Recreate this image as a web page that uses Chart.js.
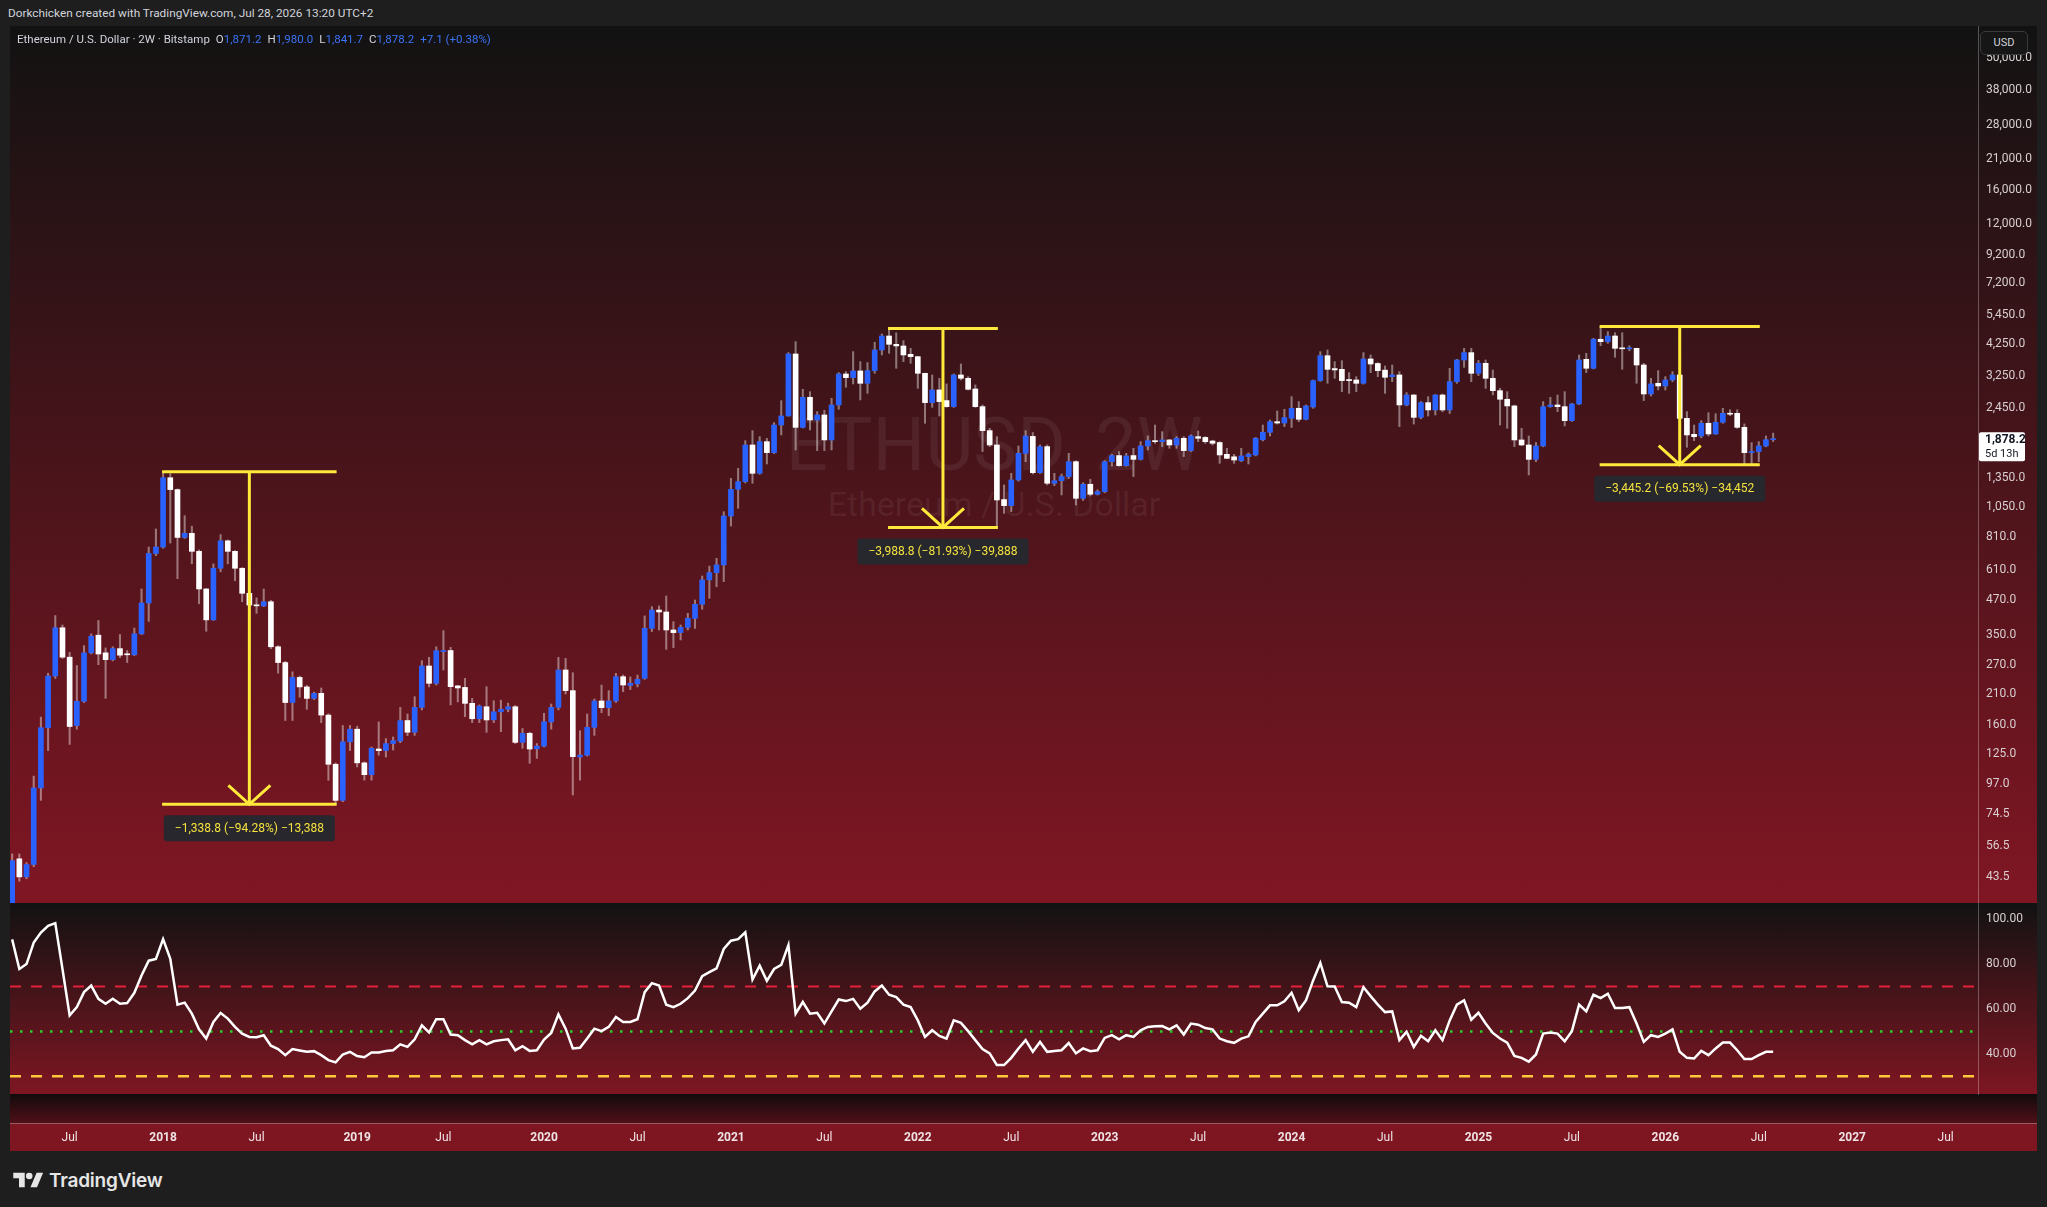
<!DOCTYPE html>
<html>
<head>
<meta charset="utf-8">
<title>ETHUSD 2W</title>
<script src="https://cdn.jsdelivr.net/npm/chart.js@4.4.1/dist/chart.umd.min.js"></script>
<style>
html, body { margin: 0; padding: 0; background: #1e1e1e; }
body { width: 2047px; height: 1207px; position: relative; overflow: hidden; font-family: Roboto, "Noto Sans", sans-serif; }
#credit { position: absolute; left: 8px; top: 6px; font-size: 11.8px; line-height: 14px; color: #d1d4dc; white-space: nowrap; }
#pricePane { position: absolute; left: 10px; top: 26px; width: 2027px; height: 877px;
  background: linear-gradient(to bottom, #121212 0%, #801623 100%); }
#rsiPane { position: absolute; left: 10px; top: 903px; width: 2027px; height: 248px;
  background: linear-gradient(to bottom, #121212 0px, #7e1622 191px, #110b0c 191px, #500f18 220px,
    #9a5a62 220px, #9a5a62 221px, #7e1622 221px, #7e1622 248px); }
canvas { position: absolute; left: 0; top: 0; }
.wm { position: absolute; left: 0; width: 1968px; text-align: center; color: rgba(255,255,255,0.065); white-space: nowrap; }
#wm1 { top: 382px; font-size: 74px; line-height: 74px; }
#wm2 { top: 461px; font-size: 34px; line-height: 34px; }
#legend { position: absolute; left: 7px; top: 6px; font-size: 11.5px; line-height: 14px; color: #d1d4dc; white-space: nowrap; z-index: 2; }
#legend .v { color: #3b73f5; }
#legend .g { margin-left: 6px; }
#usd { position: absolute; left: 1980px; top: 31px; width: 48px; height: 24px; box-sizing: border-box;
  border: 1px solid #3a3a3a; border-radius: 5px; background: #161616; color: #d1d4dc;
  font-size: 11px; line-height: 21px; text-align: center; z-index: 3; }
#logo { position: absolute; left: 13px; top: 1169px; height: 22px; display: flex; align-items: center; gap: 6px; color: #e6e6e6; }
#logo span { font-family: Inter, Roboto, sans-serif; font-size: 19px; font-weight: 600; letter-spacing: -0.2px; }
</style>
</head>
<body>
<div id="credit">Dorkchicken created with TradingView.com, Jul 28, 2026 13:20 UTC+2</div>

<div id="pricePane">
  <div class="wm" id="wm1">ETHUSD, 2W</div>
  <div class="wm" id="wm2">Ethereum / U.S. Dollar</div>
  <div id="legend"></div>
  <canvas id="priceChart" width="2027" height="877"></canvas>
</div>
<div id="usd">USD</div>

<div id="rsiPane">
  <canvas id="rsiChart" width="2027" height="248"></canvas>
</div>

<div id="logo">
  <svg width="30" height="18" viewBox="0 0 36 22"><path d="M14 20H7V9H0V2h14v18zM29 20h-8l7.5-18h8L29 20z" fill="#e6e6e6"/><circle cx="19.5" cy="6" r="4" fill="#e6e6e6"/></svg>
  <span>TradingView</span>
</div>

<script>
// 2W candles, first bar starts on this date
const startDate = '2017-03-13';

const open = [
  28, 50.8, 43.5, 48.4, 93.5, 157, 245, 371, 288, 160,
  197, 299, 348, 299, 282, 310, 296, 294, 352, 459,
  703, 743, 1349, 1218, 807, 836, 716, 518, 397, 619,
  784, 716, 619, 499, 452, 448, 464, 315, 275, 195,
  242, 223, 202, 211, 175, 114.6, 84, 139, 155, 116,
  104.8, 130.7, 129, 137, 140, 167, 151, 187, 267, 230,
  302, 305, 225, 222, 193.6, 169.6, 188, 168, 180, 184,
  188, 138.4, 149.6, 131, 134, 165, 187, 258, 216, 122,
  124, 157.5, 197.6, 186.6, 197.6, 243.5, 226, 229, 240, 369,
  432, 425, 364, 356, 372, 402, 454, 560, 596, 637,
  970, 1221, 1304, 1788, 1401, 1840, 1674, 2123, 2295, 3913,
  2081, 2695, 2217, 2315, 1867, 2523, 3294, 3192, 3381, 3040,
  3390, 4050, 4567, 4252, 4192, 3900, 3824, 3313, 2574, 2871,
  2620, 2487, 3266, 3173, 2895, 2487, 2023, 1788, 1118, 1061,
  1323, 1664, 1925, 1409, 1763, 1286, 1315, 1362, 1549, 1130,
  1275, 1170, 1197, 1549, 1632, 1497, 1632, 1580, 1773, 1856,
  1840, 1867, 1788, 1894, 1703, 1921, 1908, 1850, 1826, 1650,
  1615, 1562, 1618, 1641, 1870, 1994, 2185, 2160, 2250, 2452,
  2230, 2480, 3111, 3855, 3450, 3428, 3140, 3128, 3040, 3748,
  3605, 3405, 3219, 3266, 2523, 2749, 2268, 2574, 2417, 2749,
  2417, 3083, 3715, 3958, 3313, 3611, 3173, 2853, 2650, 2502,
  1867, 1788, 1580, 1773, 2487, 2523, 2487, 2204, 2544, 3737,
  3459, 4440, 4350, 4567, 4108, 4090, 4108, 3559, 2773, 3040,
  2971, 3128, 3266, 2249, 1960, 1932, 2155, 1966, 2174, 2348,
  2348, 2081, 1674, 1690, 1773, 1871.2
];
const high = [
  53, 53, 49.2, 103.5, 172, 251, 412, 380, 300, 268,
  318, 352, 395, 312, 315, 350, 305, 370, 518, 743,
  868, 1420, 1398, 1225, 973, 889, 725, 520, 643, 827,
  790, 720, 622, 510, 480, 518, 470, 318, 278, 254,
  245, 226, 213, 221, 177, 116, 160, 160, 159, 117,
  133, 165, 143, 145, 187, 176.6, 205, 279.5, 287.6, 315,
  362, 313.5, 226, 240, 202, 191, 223.5, 198, 199, 194,
  190, 156, 151, 137, 177.7, 192.5, 287.6, 285, 252, 153,
  176.6, 201, 226.7, 216, 250.6, 247, 243, 247, 410.7, 445,
  447.6, 487.6, 391, 380, 420, 471, 579, 631, 674.5, 1007,
  1342, 1463, 1856, 2023, 1921, 1894, 2167, 2619, 3958, 4352,
  2887, 2829, 2382, 2408, 2672, 3332, 3361, 3993, 3663, 3632,
  4327, 4648, 4868.5, 4697, 4389, 4108, 3830, 3320, 3266, 3173,
  3023, 3294, 3590, 3219, 2997, 2523, 2064, 1921, 1268, 1401,
  1773, 2023, 1989, 1788, 1788, 1401, 1393, 1664, 1560, 1292,
  1331, 1216, 1563, 1651, 1689, 1664, 1738, 1840, 1932, 2123,
  2005, 1875, 1921, 1921, 1949, 2017, 1921, 1860, 1840, 1738,
  1650, 1738, 1670, 1908, 2123, 2217, 2396, 2431, 2710, 2597,
  2523, 3128, 3991, 4050, 3663, 3694, 3332, 3219, 3958, 3879,
  3630, 3529, 3559, 3361, 2805, 2760, 2597, 2710, 2760, 2772,
  3459, 3737, 4108, 4108, 3700, 3715, 3409, 2912, 2829, 2520,
  2064, 1932, 1826, 2597, 2695, 2750, 2829, 2560, 3879, 3935,
  4478, 4955.0, 4742, 4697, 4697, 4200, 4115, 3611, 3173, 3390,
  3219, 3361, 3294, 2382, 2123, 2204, 2361, 2339, 2452, 2420,
  2420, 2143, 1824, 1840, 1932, 1980.0
];
const low = [
  27, 41.9, 42.8, 47.5, 84, 129, 240, 285, 136, 155,
  195, 296, 270, 202, 279, 287, 275, 292, 350, 392,
  690, 735, 769, 566, 800, 643, 456, 360, 395, 600,
  643, 556, 464, 440, 420, 445, 310, 251, 167, 167,
  204, 184, 200, 164, 99.8, 81.2, 83, 129, 112, 100,
  100, 124, 122, 129.6, 138, 146.6, 147, 183, 223, 226.7,
  258, 191, 196, 172.6, 164, 164, 150.9, 164, 151.7, 180,
  137, 131.5, 115.6, 120.6, 133, 155, 183, 209.8, 88, 100,
  123, 147, 178.6, 174, 195, 214, 218, 223, 238, 359,
  364, 308, 312.6, 334, 364, 369, 434.8, 478, 528, 551.8,
  890, 1037, 1290, 1286, 1390, 1518, 1660, 1949, 2290, 1713,
  2070, 2035, 1703, 1703, 1713, 2431, 2938, 3023, 2634, 2789,
  3313, 3879, 3935, 3459, 3663, 3611, 2912, 2155, 2473, 2295,
  2473, 2470, 3128, 2871, 2473, 1689, 1763, 879.7, 993, 1008,
  1310, 1549, 1393, 1400, 1268, 1260, 1163, 1340, 1067, 1110,
  1153, 1163, 1185, 1492, 1490, 1490, 1362, 1570, 1713, 1814,
  1763, 1738, 1738, 1618, 1690, 1840, 1814, 1788, 1527, 1590,
  1527, 1549, 1518, 1627, 1850, 1932, 2141, 2094, 2080, 2185,
  2217, 2452, 3090, 3040, 3173, 2829, 2788, 2829, 3020, 3332,
  3219, 2788, 3083, 2094, 2502, 2141, 2240, 2294, 2315, 2380,
  2345, 3040, 3488, 3083, 3250, 2912, 2750, 2123, 2064, 1763,
  1780, 1381, 1549, 1760, 2473, 2382, 2106, 2190, 2530, 3332,
  3440, 4200, 4289, 3802, 3429, 4020, 3040, 2619, 2725, 2871,
  2871, 3080, 2217, 1753, 1856, 1900, 1932, 1960, 2155, 2300,
  2064, 1509.8, 1515, 1549, 1760, 1841.7
];
const close = [
  50, 43.5, 48.4, 93.5, 157, 245, 371, 288, 158.6, 197,
  299, 345, 296, 282, 310, 293, 294, 352, 459, 703,
  743, 1349, 1218, 807, 836, 716, 518, 397, 619, 784,
  716, 619, 499, 451, 448, 464, 315, 275, 195, 242,
  223, 202, 211, 175, 114.6, 84, 139, 155, 116, 104.8,
  131.5, 128.9, 137, 140.4, 166.8, 151, 187, 267, 230, 304.6,
  305, 223.5, 221, 193.6, 169.6, 189, 167.8, 180, 183.9, 188,
  138.4, 149.6, 130.7, 134, 165.3, 187, 258, 216, 122.4, 124,
  157.5, 197.6, 186.6, 197.6, 243.5, 226.7, 230, 238, 369, 432,
  425, 364, 355.8, 372, 402.5, 454, 559.8, 596, 637, 970.7,
  1221, 1304, 1788, 1401, 1840, 1674, 2123, 2295, 3913, 2081,
  2695, 2217, 2315, 1867, 2523, 3294, 3192, 3381, 3040, 3390,
  4050, 4567, 4252, 4192, 3879, 3824, 3313, 2574, 2871, 2597,
  2487, 3266, 3173, 2887, 2487, 2023, 1788, 1114, 1061, 1323,
  1664, 1932, 1409, 1763, 1286, 1315, 1362, 1549, 1130, 1275,
  1170, 1197, 1549, 1632, 1497, 1627, 1580, 1773, 1856, 1840,
  1867, 1788, 1894, 1703, 1932, 1894, 1840, 1814, 1641, 1594,
  1571, 1627, 1650, 1894, 1994, 2185, 2160, 2262, 2452, 2230,
  2502, 3111, 3855, 3428, 3410, 3111, 3111, 3040, 3748, 3589,
  3389, 3201, 3266, 2523, 2749, 2268, 2574, 2417, 2749, 2417,
  3083, 3715, 3958, 3313, 3611, 3173, 2853, 2650, 2502, 1867,
  1788, 1580, 1773, 2487, 2523, 2487, 2204, 2544, 3715, 3459,
  4440, 4350, 4567, 4108, 4090, 4108, 3559, 2773, 3023, 2971,
  3128, 3266, 2249, 1949, 1920, 2155, 1966, 2174, 2348, 2330,
  2081, 1674, 1690, 1773, 1871.1, 1878.2
];
const rsi = [
  91, 77.8, 80, 89.6, 94, 97, 98.2, 77.8, 57.1, 60.8,
  67.5, 70.4, 64.5, 62.3, 64.5, 62.3, 62.6, 67.2, 74.9, 81.5,
  82.3, 91.1, 82.3, 61.9, 62.8, 57.9, 50.9, 46.8, 54.2, 58.2,
  55.7, 52, 49, 47.5, 47.4, 48.3, 43.6, 42.1, 39.4, 42.1,
  41.5, 40.9, 41.2, 39.4, 37.2, 36.2, 39.7, 40.9, 39, 38.5,
  40.6, 40.6, 41.3, 41.6, 44.2, 43.1, 46.5, 52.7, 49.5, 55.4,
  55.4, 48.6, 48.3, 46.1, 44.2, 46.1, 44.2, 45.6, 46.1, 46.5,
  41.6, 43.4, 41.3, 41.6, 46.4, 49.3, 57.6, 51.2, 42.4, 42.7,
  46.8, 51.2, 50.1, 52, 56.4, 54.2, 54.2, 55.4, 67.5, 71.5,
  70.4, 61.9, 60.8, 62.3, 64.8, 68.2, 74.6, 76.4, 78.1, 86.7,
  90.4, 91.1, 94.1, 73.1, 79.3, 72.5, 77.8, 79.6, 88.5, 57.9,
  63.1, 57.9, 58.3, 53.5, 58.9, 64.2, 63.5, 64.5, 60.1, 62.8,
  67.8, 70.4, 66.3, 65.3, 61.9, 60.8, 54.9, 47.5, 50.5, 48,
  46.8, 54.9, 53.8, 50.1, 46.1, 42.1, 40.2, 35, 35, 38.2,
  42.4, 46.1, 40.9, 45.3, 40.9, 41.3, 41.6, 44.8, 40.2, 42.4,
  41.2, 41.6, 47.1, 48.3, 46.5, 48.3, 47.5, 50.5, 52, 52.3,
  52.4, 50.9, 52.7, 48.6, 53.5, 53, 51.5, 50.9, 46.8, 45.6,
  44.9, 46.8, 47.8, 54.2, 57.9, 61.6, 61.6, 63.4, 67.2, 59.4,
  63.8, 72.7, 80.5, 70.1, 70, 63.1, 62.8, 60.8, 69.7, 65.7,
  61.9, 58.6, 58.9, 46.1, 49.8, 43.1, 48, 45.6, 50.5, 46.1,
  54.9, 61.9, 63.8, 55.2, 58.3, 53.5, 49.3, 46.8, 45, 39.1,
  38.2, 36.5, 39.7, 49, 49.5, 49, 45.6, 50.1, 61.9, 58.9,
  66.3, 64.8, 66.8, 60.4, 60.4, 60.8, 53.5, 45.3, 48.3, 47.5,
  49, 50.9, 40.9, 38.2, 37.9, 41.3, 39.4, 42.4, 45, 45,
  41.6, 37.7, 37.7, 39.4, 40.9, 40.9
];

const priceTicks = [43.5, 56.5, 74.5, 97, 125, 160, 210, 270, 350, 470, 610, 810, 1050, 1350,
  2450, 3250, 4250, 5450, 7200, 9200, 12000, 16000, 21000, 28000, 38000, 50000];
const rsiTicks = [40, 60, 80, 100];
const rsiLevels = [70, 50, 30];

const timeLabels = ['Jul', '2018', 'Jul', '2019', 'Jul', '2020', 'Jul', '2021', 'Jul', '2022', 'Jul',
  '2023', 'Jul', '2024', 'Jul', '2025', 'Jul', '2026', 'Jul', '2027', 'Jul'];
const timeDates = ['2017-07-01', '2018-01-01', '2018-07-01', '2019-01-01', '2019-07-01', '2020-01-01',
  '2020-07-01', '2021-01-01', '2021-07-01', '2022-01-01', '2022-07-01', '2023-01-01', '2023-07-01',
  '2024-01-01', '2024-07-01', '2025-01-01', '2025-07-01', '2026-01-01', '2026-07-01', '2027-01-01', '2027-07-01'];

// price range measurements (bar from, bar to, high, low)
const measureFrom = [21, 122, 221];
const measureTo = [45, 137, 243];
const measureHigh = [1420.0, 4868.5, 4955.0];
const measureLow = [81.2, 879.7, 1509.8];

// ---- view settings ----
const xMin = -0.3, xMax = 273.5;
const AXIS_W = 59;
const UP = '#2962ff', DOWN = '#ffffff';
const YELLOW = '#ffe93b';

const DAY = 864e5;
const timePos = timeDates.map(d => Math.ceil((Date.parse(d) - Date.parse(startDate)) / (14 * DAY)));

const fmt = (v, d) => v.toLocaleString('en-US', { minimumFractionDigits: d, maximumFractionDigits: d });
const signed = s => s.replace('-', '\u2212');

Chart.defaults.font.family = 'Roboto, "Noto Sans", sans-serif';
Chart.defaults.animation = false;

// legend line
const n = close.length - 1;
const chg = close[n] - close[n - 1];
document.getElementById('legend').innerHTML =
  'Ethereum / U.S. Dollar \u00b7 2W \u00b7 Bitstamp' +
  '<span class="g">O<span class="v">' + fmt(open[n], 1) + '</span></span>' +
  '<span class="g">H<span class="v">' + fmt(high[n], 1) + '</span></span>' +
  '<span class="g">L<span class="v">' + fmt(low[n], 1) + '</span></span>' +
  '<span class="g">C<span class="v">' + fmt(close[n], 1) + '</span></span>' +
  '<span class="g v">+' + fmt(chg, 1) + ' (+' + fmt(chg / close[n - 1] * 100, 2) + '%)</span>';

function zeroPad(s) { s.paddingTop = 0; s.paddingBottom = 0; s.paddingLeft = 0; s.paddingRight = 0; }

const measurePlugin = {
  id: 'measures',
  afterDatasetsDraw(chart) {
    const { ctx, scales: { x, y } } = chart;
    ctx.save();
    for (let k = 0; k < measureHigh.length; k++) {
      const x1 = x.getPixelForValue(measureFrom[k]) - 1;
      const x2 = x.getPixelForValue(measureTo[k]) + 1;
      const xm = (x1 + x2) / 2;
      const yh = y.getPixelForValue(measureHigh[k]);
      const yl = y.getPixelForValue(measureLow[k]);
      ctx.strokeStyle = YELLOW;
      ctx.lineWidth = 3;
      ctx.lineCap = 'butt';
      ctx.beginPath();
      ctx.moveTo(x1, yh); ctx.lineTo(x2, yh);
      ctx.moveTo(x1, yl); ctx.lineTo(x2, yl);
      ctx.moveTo(xm, yh); ctx.lineTo(xm, yl);
      ctx.stroke();
      ctx.beginPath();
      ctx.moveTo(xm - 21, yl - 19); ctx.lineTo(xm, yl); ctx.lineTo(xm + 21, yl - 19);
      ctx.stroke();

      const diff = measureLow[k] - measureHigh[k];
      const text = signed(fmt(diff, 1)) + ' (' + signed(fmt(diff / measureHigh[k] * 100, 2)) + '%) ' +
        signed(fmt(Math.round(diff * 10), 0));
      ctx.font = '12px Roboto, "Noto Sans", sans-serif';
      const w = ctx.measureText(text).width + 22;
      ctx.fillStyle = 'rgba(37,40,47,0.95)';
      ctx.beginPath();
      ctx.roundRect(xm - w / 2, yl + 11, w, 26, 3);
      ctx.fill();
      ctx.fillStyle = '#f5e23e';
      ctx.textAlign = 'center';
      ctx.textBaseline = 'middle';
      ctx.fillText(text, xm, yl + 24.5);
    }
    ctx.restore();
  },
  afterDraw(chart) {
    const { ctx, scales: { y } } = chart;
    const yp = y.getPixelForValue(close[n]);
    const left = chart.chartArea.right + 1;
    ctx.save();
    ctx.fillStyle = '#ffffff';
    ctx.beginPath();
    ctx.roundRect(left, yp - 7, 46, 29, 2);
    ctx.fill();
    ctx.fillStyle = '#131722';
    ctx.textAlign = 'left';
    ctx.textBaseline = 'middle';
    ctx.font = 'bold 12px Roboto, "Noto Sans", sans-serif';
    ctx.fillText(fmt(close[n], 1), left + 6, yp + 1);
    ctx.font = '11px Roboto, "Noto Sans", sans-serif';
    ctx.fillText('5d 13h', left + 6, yp + 15);
    ctx.restore();
  }
};

new Chart(document.getElementById('priceChart'), {
  type: 'bar',
  data: {
    datasets: [
      {
        label: 'wick',
        data: high.map((h, i) => ({ x: i, y: [low[i], h] })),
        backgroundColor: 'rgba(255,255,255,0.42)',
        barThickness: 1.4,
        grouped: false,
        order: 2
      },
      {
        label: 'body',
        data: open.map((o, i) => ({ x: i, y: [o, close[i]] })),
        backgroundColor: open.map((o, i) => close[i] >= o ? UP : DOWN),
        barThickness: 5,
        minBarLength: 1,
        grouped: false,
        order: 1
      }
    ]
  },
  options: {
    responsive: false,
    maintainAspectRatio: false,
    layout: { padding: 0 },
    plugins: { legend: { display: false }, tooltip: { enabled: false } },
    scales: {
      x: { type: 'linear', min: xMin, max: xMax, offset: false, display: false },
      y: {
        type: 'logarithmic',
        position: 'right',
        min: 34.74,
        max: 65770,
        grid: { display: false, drawTicks: false },
        border: { display: true, color: 'rgba(255,255,255,0.28)', width: 1 },
        afterBuildTicks: s => { s.ticks = priceTicks.map(v => ({ value: v })); },
        afterFit: s => { s.width = AXIS_W; zeroPad(s); },
        ticks: {
          autoSkip: false,
          padding: 8,
          color: '#d8cfd1',
          font: { size: 12 },
          callback: v => fmt(v, 1)
        }
      }
    }
  },
  plugins: [measurePlugin]
});

const levelStyles = [
  { color: '#e3203a', dash: [11, 10], width: 2 },
  { color: '#2bd12b', dash: [2.5, 7.5], width: 2.5 },
  { color: '#ffc83a', dash: [11, 10], width: 2.6 }
];

new Chart(document.getElementById('rsiChart'), {
  type: 'line',
  data: {
    datasets: [
      {
        label: 'RSI',
        data: rsi.map((v, i) => ({ x: i, y: v })),
        borderColor: '#ffffff',
        borderWidth: 2.5,
        pointRadius: 0,
        tension: 0,
        order: 0
      },
      ...rsiLevels.map((lv, k) => ({
        label: 'level ' + lv,
        data: [{ x: xMin, y: lv }, { x: xMax, y: lv }],
        borderColor: levelStyles[k].color,
        borderDash: levelStyles[k].dash,
        borderWidth: levelStyles[k].width,
        pointRadius: 0,
        order: 1 + k
      }))
    ]
  },
  options: {
    responsive: false,
    maintainAspectRatio: false,
    layout: { padding: 0 },
    plugins: { legend: { display: false }, tooltip: { enabled: false } },
    scales: {
      x: {
        type: 'linear',
        min: xMin,
        max: xMax,
        offset: false,
        position: 'bottom',
        grid: { display: false, drawTicks: false },
        border: { display: false },
        afterBuildTicks: s => { s.ticks = timePos.map(v => ({ value: v })); },
        afterFit: s => { s.height = 57; zeroPad(s); },
        ticks: {
          autoSkip: false,
          maxRotation: 0,
          minRotation: 0,
          padding: 37,
          color: '#efe3e4',
          font: c => ({ size: 12, weight: timeLabels[c.index] === 'Jul' ? 'normal' : 'bold' }),
          callback: (v, i) => timeLabels[i]
        }
      },
      y: {
        position: 'right',
        min: 22.1,
        max: 107.2,
        grid: { display: false, drawTicks: false },
        border: { display: true, color: 'rgba(255,255,255,0.28)', width: 1 },
        afterBuildTicks: s => { s.ticks = rsiTicks.map(v => ({ value: v })); },
        afterFit: s => { s.width = AXIS_W; zeroPad(s); },
        ticks: {
          autoSkip: false,
          padding: 8,
          color: '#d8cfd1',
          font: { size: 12 },
          callback: v => v.toFixed(2)
        }
      }
    }
  }
});
</script>
</body>
</html>
